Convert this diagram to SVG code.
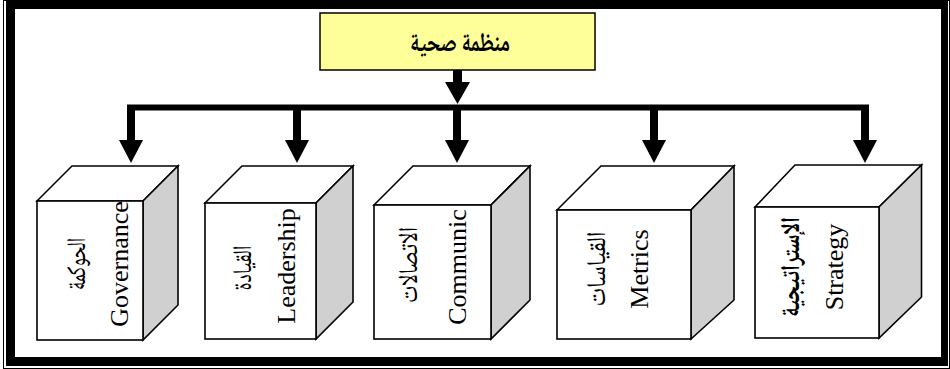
<svg xmlns="http://www.w3.org/2000/svg" width="950" height="369" viewBox="0 0 950 369">
<defs>
<style>
.frame{fill:none;stroke:#000}
.front{fill:#fff;stroke:#000;stroke-width:1.6;stroke-linejoin:miter}
.top{fill:#fff;stroke:#000;stroke-width:1.6}
.side{fill:#d0d0d0;stroke:#000;stroke-width:1.6}
.en{font-family:"Liberation Serif","Times New Roman",serif;font-size:26px;fill:#000;text-anchor:middle}
.ar{font-family:"Noto Naskh Arabic","DejaVu Sans",sans-serif;font-size:27px;fill:#000;text-anchor:middle}
.conn{stroke:#000;fill:none}
.head{fill:#000}
</style>
</defs>
<rect width="950" height="369" fill="#fff"/>
<!-- page border -->
<rect class="frame" x="3.5" y="0.5" width="946" height="368" stroke-width="1"/>
<path d="M6,1H948V366H6Z M15,9V357H941V9Z" fill="#000" fill-rule="evenodd"/>

<g id="root">
<rect x="320" y="13" width="275" height="57" fill="#ffff99" stroke="#000" stroke-width="1.5"/>
<text class="ar" x="460" y="51" font-size="30" font-weight="bold" textLength="100" lengthAdjust="spacingAndGlyphs">منظمة صحية</text>
</g>

<g id="connectors">
<line class="conn" x1="457.5" y1="70" x2="457.5" y2="83" stroke-width="9"/>
<polygon class="head" points="445,82 470,82 457.5,104"/>
<line class="conn" x1="127" y1="107.5" x2="869" y2="107.5" stroke-width="6"/>
<line class="conn" x1="131" y1="105" x2="131" y2="141" stroke-width="8"/>
<line class="conn" x1="297" y1="105" x2="297" y2="141" stroke-width="8"/>
<line class="conn" x1="457" y1="105" x2="457" y2="141" stroke-width="8"/>
<line class="conn" x1="654" y1="105" x2="654" y2="141" stroke-width="8"/>
<line class="conn" x1="865" y1="105" x2="865" y2="141" stroke-width="8"/>
<polygon class="head" points="119,140 143,140 131,163"/>
<polygon class="head" points="285,140 309,140 297,163"/>
<polygon class="head" points="445,140 469,140 457,163"/>
<polygon class="head" points="642,140 666,140 654,163"/>
<polygon class="head" points="853,140 877,140 865,163"/>
</g>

<g id="governance">
<polygon class="top" points="37,201 72,166 178,166 143,201"/>
<polygon class="side" points="143,201 178,166 178,305 143,340"/>
<rect class="front" x="37" y="201" width="106" height="139"/>
<text class="en" transform="translate(128,264) rotate(-90)">Governance</text>
<text class="ar" transform="translate(85,264) rotate(-90)" textLength="52" lengthAdjust="spacingAndGlyphs">الحوكمة</text>
</g>

<g id="leadership">
<polygon class="top" points="205,203 242,166 353,166 316,203"/>
<polygon class="side" points="316,203 353,166 353,302 316,339"/>
<rect class="front" x="205" y="203" width="111" height="136"/>
<text class="en" transform="translate(295,266) rotate(-90)">Leadership</text>
<text class="ar" transform="translate(251,268) rotate(-90)" textLength="45" lengthAdjust="spacingAndGlyphs">القيادة</text>
</g>

<g id="communication">
<polygon class="top" points="374,205 413,166 530,166 491,205"/>
<polygon class="side" points="491,205 530,166 530,300 491,339"/>
<rect class="front" x="374" y="205" width="117" height="134"/>
<text class="en" transform="translate(466,267) rotate(-90)">Communic</text>
<text class="ar" transform="translate(417,265) rotate(-90)" textLength="76" lengthAdjust="spacingAndGlyphs">الاتصالات</text>
</g>

<g id="metrics">
<polygon class="top" points="557,210 601,166 734,166 691,210"/>
<polygon class="side" points="691,210 734,166 734,300 691,339"/>
<rect class="front" x="557" y="210" width="134" height="129"/>
<text class="en" transform="translate(648,269) rotate(-90)">Metrics</text>
<text class="ar" transform="translate(605,269) rotate(-90)" textLength="75" lengthAdjust="spacingAndGlyphs">القياسات</text>
</g>

<g id="strategy">
<polygon class="top" points="755,207 795,165 921.5,165 879,207"/>
<polygon class="side" points="879,207 921.5,165 921.5,297 879,338"/>
<rect class="front" x="755" y="207" width="124" height="131"/>
<text class="en" transform="translate(843,267) rotate(-90)" font-size="25">Strategy</text>
<text class="ar" transform="translate(799,267) rotate(-90)" font-weight="bold" textLength="100" lengthAdjust="spacingAndGlyphs">الإستراتيجية</text>
</g>
</svg>
